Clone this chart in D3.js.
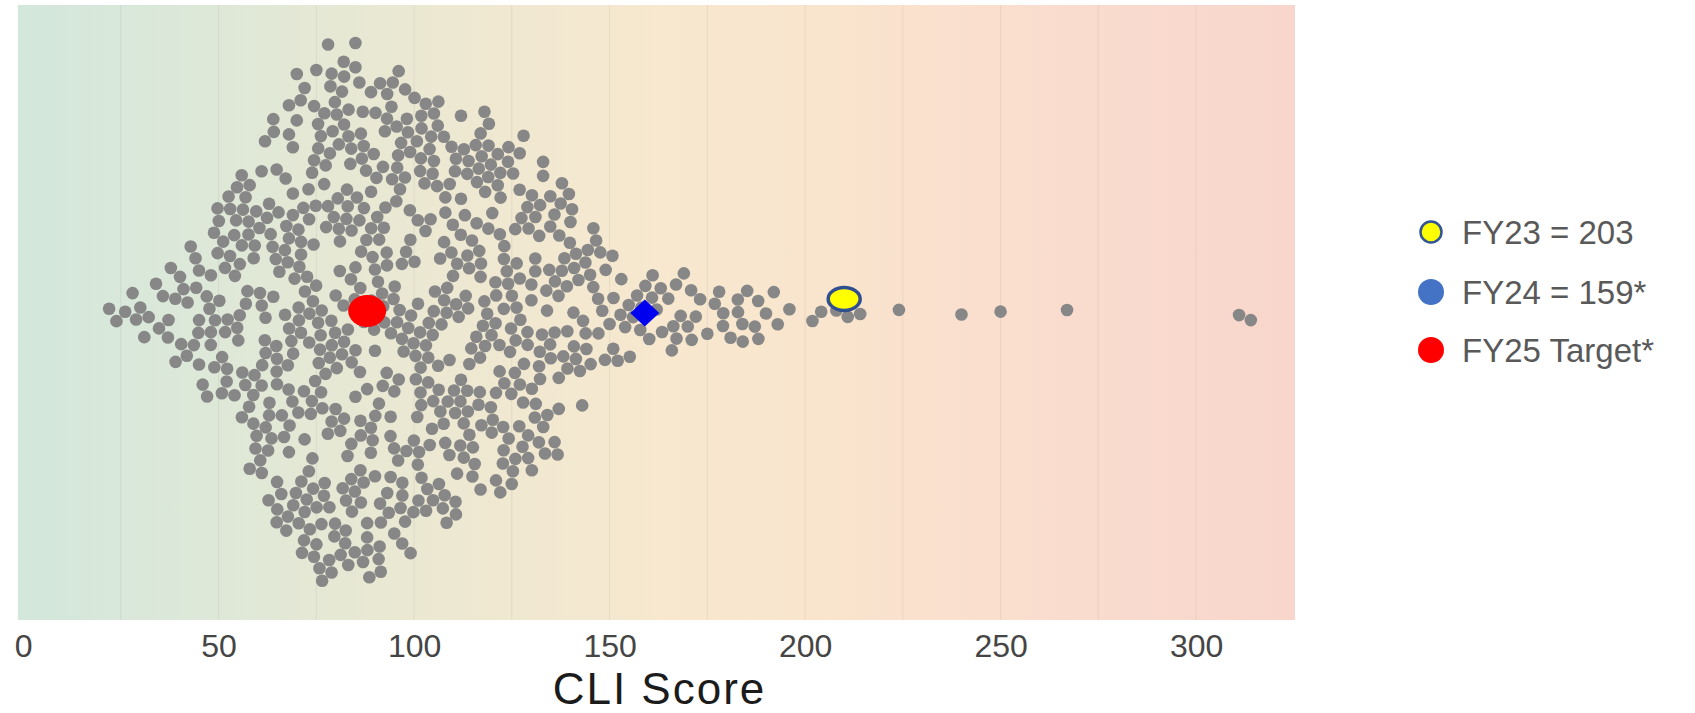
<!DOCTYPE html>
<html>
<head>
<meta charset="utf-8">
<script src="https://cdn.jsdelivr.net/npm/d3@7"></script>
<style>
  html, body { margin: 0; padding: 0; background: #ffffff; }
  svg { display: block; font-family: "Liberation Sans", Arial, sans-serif; }
</style>
</head>
<body>
<svg id="chart" width="1695" height="713"></svg>
<script>
// ---------------- data ----------------
const scoreValues = [
  22,23,24,25,26,27,28,29,30,31,32,33,34,35,36,37,38,39,40,
  41,42,43,44,45,46,47,48,49,50,
  51,52,53,54,55,56,57,58,59,60,
  61,62,63,64,65,66,67,68,69,70,
  71,72,73,74,75,76,77,78,79,80,
  81,82,83,84,85,86,87,88,89,90,
  91,92,93,94,95,96,97,98,99,100,
  101,102,103,104,105,106,107,108,109,110,
  111,112,113,114,115,116,117,118,119,120,
  121,122,123,124,125,126,127,128,129,130,
  131,132,133,134,135,136,137,138,139,140,
  141,142,143,144,145,146,147,148,149,150,
  151,152,153,154,155,156,157,158,159,160,
  161,162,163,164,165,166,167,168,169,170,
  171,172,173,174,175,176,177,178,179,180,
  181,182,183,184,185,186,187,188,189,190,
  191,192,193,194,195,196
];
const scoreCounts = [
  1,0,1,0,1,0,1,1,1,1,1,0,1,1,1,2,1,2,1,
  2,2,2,2,3,2,3,3,3,4,
  3,4,4,4,5,4,5,5,5,6,
  5,6,6,6,7,6,7,7,8,7,
  8,8,8,9,8,9,8,9,9,8,
  9,8,9,8,9,8,9,8,8,9,
  8,8,8,7,8,8,7,8,7,7,
  8,7,7,7,7,7,6,7,7,6,
  7,6,7,6,7,6,6,7,6,6,
  7,6,6,6,6,6,6,5,6,5,
  5,5,5,5,4,5,4,4,4,4,
  4,3,3,3,2,3,2,2,2,2,
  2,1,2,1,2,1,1,2,1,1,
  2,1,1,1,1,2,2,1,1,1,
  2,1,1,0,1,0,1,1,2,0,
  1,0,2,2,1,0,1,2,0,1,
  0,1,1,0,0,1
];
const outlierScores = [202, 204, 208, 211, 214, 224, 240, 250, 267, 311, 314];

const markerLabels = ["FY23 = 203", "FY24 = 159*", "FY25 Target*"];
const markerScores = [210, 159, 88];          // positions
const tickValues = [0, 50, 100, 150, 200, 250, 300];
const gridValues = [25, 50, 75, 100, 125, 150, 175, 200, 225, 250, 275, 300];
const xDomain = [-1.3, 325.3];
const axisTitle = "CLI Score";

// ---------------- layout ----------------
const svg = d3.select("#chart");
const plot = { left: 18, right: 1295, top: 5, bottom: 620 };
const cy = 313;
const dotR = 6.3;
const spreadPerDot = 32;   // px of half-width per dot-per-unit of local density

const x = d3.scaleLinear().domain(xDomain).range([plot.left, plot.right]);

// background gradient
const defs = svg.append("defs");
const grad = defs.append("linearGradient").attr("id", "bg")
  .attr("x1", "0%").attr("x2", "100%").attr("y1", "0%").attr("y2", "0%");
[
  [0.00, "#d3e7dc"], [0.12, "#dbe8d9"], [0.25, "#e6e8d4"], [0.38, "#f0e8d1"],
  [0.50, "#f7e8cf"], [0.62, "#f9e5cd"], [0.75, "#fadfce"], [0.88, "#f9dace"], [1.00, "#f8d6cb"]
].forEach(([o, c]) => grad.append("stop").attr("offset", o).attr("stop-color", c));

svg.append("rect")
  .attr("x", plot.left).attr("y", plot.top)
  .attr("width", plot.right - plot.left).attr("height", plot.bottom - plot.top)
  .attr("fill", "url(#bg)");

// grid lines
svg.append("g").selectAll("line").data(gridValues).join("line")
  .attr("x1", d => x(d)).attr("x2", d => x(d))
  .attr("y1", plot.top).attr("y2", plot.bottom)
  .attr("stroke", "#000").attr("stroke-opacity", 0.06).attr("stroke-width", 1);

// axis
const axis = d3.axisBottom(x).tickValues(tickValues).tickSize(0).tickPadding(14)
  .tickFormat(d3.format("d"));
const gAxis = svg.append("g").attr("transform", `translate(0,${plot.bottom})`).call(axis);
gAxis.select(".domain").remove();
gAxis.selectAll("text")
  .attr("font-size", 32).attr("fill", "#454545")
  .attr("font-family", "Liberation Sans, Arial, sans-serif");

svg.append("text")
  .attr("x", (plot.left + plot.right) / 2 + 3).attr("y", 703.5)
  .attr("text-anchor", "middle").attr("font-size", 44).attr("letter-spacing", 2)
  .attr("fill", "#1b1b1b")
  .text(axisTitle);

// swarm nodes
const nodes = [];
scoreValues.forEach((v, i) => {
  for (let k = 0; k < scoreCounts[i]; k++) nodes.push({ v });
});
outlierScores.forEach(v => nodes.push({ v }));

// local density (dots per score unit, +-4 window) -> envelope half-width
const countAt = new Map(scoreValues.map((v, i) => [v, scoreCounts[i]]));
outlierScores.forEach(v => countAt.set(v, (countAt.get(v) || 0) + 1));
function density(v) {
  let s = 0;
  for (let t = v - 4; t <= v + 4; t++) s += countAt.get(t) || 0;
  return s / 9;
}
// deterministic integer hash used only to scatter dots inside the envelope (layout jitter)
function hash01(n) {
  n = (n ^ 61) ^ (n >>> 16);
  n = n + (n << 3);
  n = n ^ (n >>> 4);
  n = Math.imul(n, 0x27d4eb2d);
  n = n ^ (n >>> 15);
  return (n >>> 0) / 4294967296;
}
nodes.forEach((d, i) => {
  const u = ((i * 0.6180339887 + 0.35 * hash01(i + 17)) % 1) * 2 - 1;
  d.y0 = cy + u * spreadPerDot * density(d.v);
  d.x = x(d.v);
  d.y = d.y0;
});

// relaxation so dots mostly stop overlapping
const sim = d3.forceSimulation(nodes)
  .force("x", d3.forceX(d => x(d.v)).strength(0.5))
  .force("y", d3.forceY(d => d.y0).strength(0.1))
  .force("collide", d3.forceCollide(6.4).strength(0.6).iterations(1))
  .alpha(0.5)
  .stop();
for (let i = 0; i < 80; i++) sim.tick();

svg.append("g").selectAll("circle").data(nodes).join("circle")
  .attr("cx", d => d.x).attr("cy", d => d.y).attr("r", dotR)
  .attr("fill", "#878787");

// special markers
const mg = svg.append("g");
// FY25 target (red ellipse)
mg.append("ellipse")
  .attr("cx", x(markerScores[2])).attr("cy", cy - 2)
  .attr("rx", 19).attr("ry", 16).attr("fill", "#ff0000");
// FY24 (blue diamond)
const dx = x(markerScores[1]);
mg.append("path")
  .attr("d", `M${dx},${cy - 13.5} L${dx + 14.5},${cy} L${dx},${cy + 13.5} L${dx - 14.5},${cy} Z`)
  .attr("fill", "#0000f0");
// FY23 (yellow ellipse)
mg.append("ellipse")
  .attr("cx", x(markerScores[0])).attr("cy", cy - 14)
  .attr("rx", 16).attr("ry", 11.5)
  .attr("fill", "#ffff00").attr("stroke", "#2f4f8f").attr("stroke-width", 3.5);

// legend
const legend = svg.append("g").attr("transform", "translate(1431,0)");
const legY = [232, 292, 350];
legend.append("circle").attr("cx", 0).attr("cy", legY[0]).attr("r", 10.5)
  .attr("fill", "#ffff00").attr("stroke", "#2f5597").attr("stroke-width", 2.5);
legend.append("circle").attr("cx", 0).attr("cy", legY[1]).attr("r", 13)
  .attr("fill", "#4472c4");
legend.append("circle").attr("cx", 0).attr("cy", legY[2]).attr("r", 13)
  .attr("fill", "#ff0000");
legend.selectAll("text").data(markerLabels).join("text")
  .attr("x", 31).attr("y", (d, i) => legY[i] + 12)
  .attr("font-size", 33).attr("fill", "#595959")
  .text(d => d);
</script>
</body>
</html>
